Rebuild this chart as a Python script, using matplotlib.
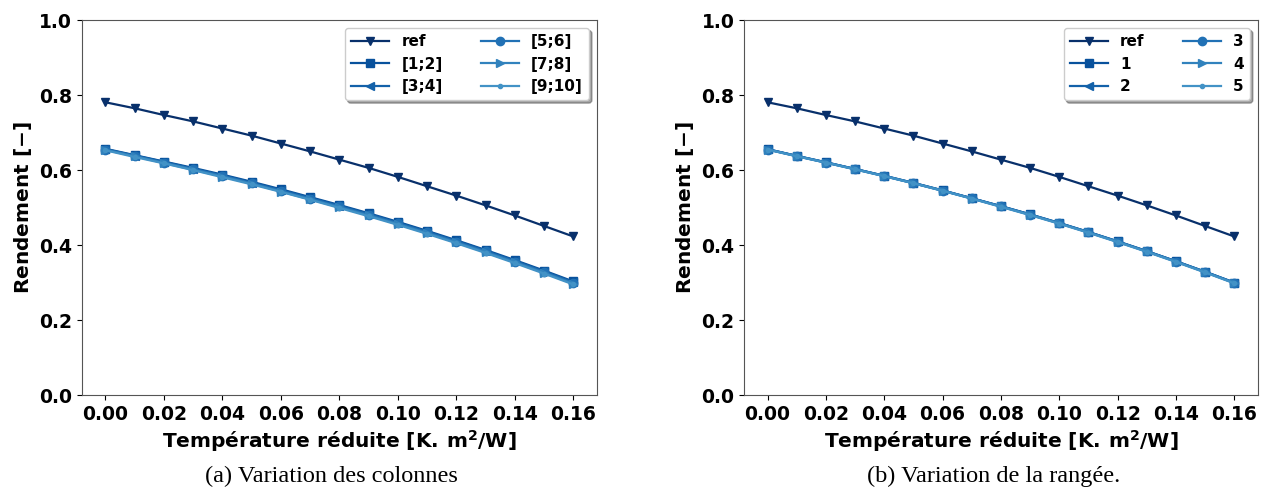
import numpy as np
import matplotlib.pyplot as plt

plt.rcParams['font.family'] = 'DejaVu Sans'
plt.rcParams['font.weight'] = 'bold'
plt.rcParams['axes.labelweight'] = 'bold'
plt.rcParams['mathtext.default'] = 'bf'

# === données ===
T = [0.00, 0.01, 0.02, 0.03, 0.04, 0.05, 0.06, 0.07, 0.08,
     0.09, 0.10, 0.11, 0.12, 0.13, 0.14, 0.15, 0.16]

eta_ref = [0.781, 0.765, 0.747, 0.730, 0.711, 0.692, 0.671, 0.650, 0.628,
           0.606, 0.582, 0.557, 0.532, 0.506, 0.479, 0.451, 0.423]

# (a) variation des colonnes
col_labels = ['[1;2]', '[3;4]', '[5;6]', '[7;8]', '[9;10]']
eta_col_12 = [0.657, 0.640, 0.623, 0.606, 0.588, 0.569, 0.549, 0.528, 0.507,
              0.485, 0.462, 0.438, 0.413, 0.387, 0.360, 0.332, 0.303]
eta_col_34 = [0.656, 0.639, 0.622, 0.604, 0.586, 0.567, 0.547, 0.526, 0.505,
              0.483, 0.460, 0.436, 0.411, 0.385, 0.358, 0.330, 0.301]
eta_col_56 = [0.655, 0.638, 0.620, 0.603, 0.585, 0.565, 0.545, 0.524, 0.503,
              0.481, 0.458, 0.434, 0.409, 0.383, 0.356, 0.328, 0.299]
eta_col_78 = [0.654, 0.637, 0.619, 0.601, 0.583, 0.564, 0.543, 0.522, 0.501,
              0.479, 0.456, 0.432, 0.407, 0.381, 0.354, 0.326, 0.297]
eta_col_910 = [0.653, 0.635, 0.618, 0.600, 0.581, 0.562, 0.542, 0.521, 0.499,
               0.477, 0.454, 0.430, 0.405, 0.379, 0.352, 0.324, 0.295]
eta_col = [eta_col_12, eta_col_34, eta_col_56, eta_col_78, eta_col_910]

# (b) variation de la rangée
row_labels = ['1', '2', '3', '4', '5']
eta_row_1 = [0.656, 0.638, 0.621, 0.603, 0.585, 0.566, 0.546, 0.525, 0.504,
             0.482, 0.459, 0.435, 0.410, 0.384, 0.357, 0.329, 0.300]
eta_row_2 = [0.656, 0.638, 0.621, 0.603, 0.585, 0.566, 0.546, 0.525, 0.504,
             0.482, 0.459, 0.435, 0.410, 0.384, 0.357, 0.329, 0.300]
eta_row_3 = [0.655, 0.638, 0.620, 0.603, 0.584, 0.565, 0.545, 0.525, 0.503,
             0.481, 0.458, 0.434, 0.409, 0.383, 0.356, 0.328, 0.299]
eta_row_4 = [0.655, 0.637, 0.620, 0.602, 0.584, 0.565, 0.545, 0.524, 0.503,
             0.481, 0.458, 0.434, 0.409, 0.383, 0.356, 0.328, 0.299]
eta_row_5 = [0.655, 0.637, 0.620, 0.602, 0.584, 0.565, 0.545, 0.524, 0.502,
             0.480, 0.457, 0.433, 0.408, 0.382, 0.355, 0.327, 0.298]
eta_row = [eta_row_1, eta_row_2, eta_row_3, eta_row_4, eta_row_5]

colors = ['#08306b', '#08519c', '#1361a9', '#2171b5', '#3182bd', '#4292c6']
markers = ['v', 's', '<', 'o', '>', '.']

# === figure ===
fig = plt.figure(figsize=(12.71, 4.92), dpi=100)
ax1 = fig.add_axes([0.0645, 0.197, 0.405, 0.762])
ax2 = fig.add_axes([0.5855, 0.197, 0.404, 0.762])


def trace(ax, series, labels, caption):
    ax.plot(T, eta_ref, color=colors[0], marker=markers[0], ms=6, lw=1.6, label='ref')
    for i, (s, lab) in enumerate(zip(series, labels)):
        ax.plot(T, s, color=colors[i + 1], marker=markers[i + 1], ms=6, lw=1.6, label=lab)
    ax.set_ylim(0, 1.0)
    ax.set_xticks(np.arange(0, 0.161, 0.02))
    ax.set_yticks(np.arange(0, 1.01, 0.2))
    ax.tick_params(labelsize=13.5)
    for sp in ax.spines.values():
        sp.set_color('#555555')
    ax.set_xlabel(r'Température réduite $[K.\,m^2/W]$', fontsize=14.5, labelpad=3)
    ax.set_ylabel(r'Rendement $[-]$', fontsize=14.5)
    ax.legend(ncol=2, loc='upper right', shadow=True,
              prop={'weight': 'bold', 'size': 11}, handlelength=2.5,
              columnspacing=2.5)
    ax.text(0.485, -0.19, caption, transform=ax.transAxes, ha='center', va='top',
            fontsize=17.5, family='Liberation Serif', fontweight='normal')


trace(ax1, eta_col, col_labels, '(a) Variation des colonnes')
trace(ax2, eta_row, row_labels, '(b) Variation de la rangée.')

plt.savefig('out.png', dpi=100)
